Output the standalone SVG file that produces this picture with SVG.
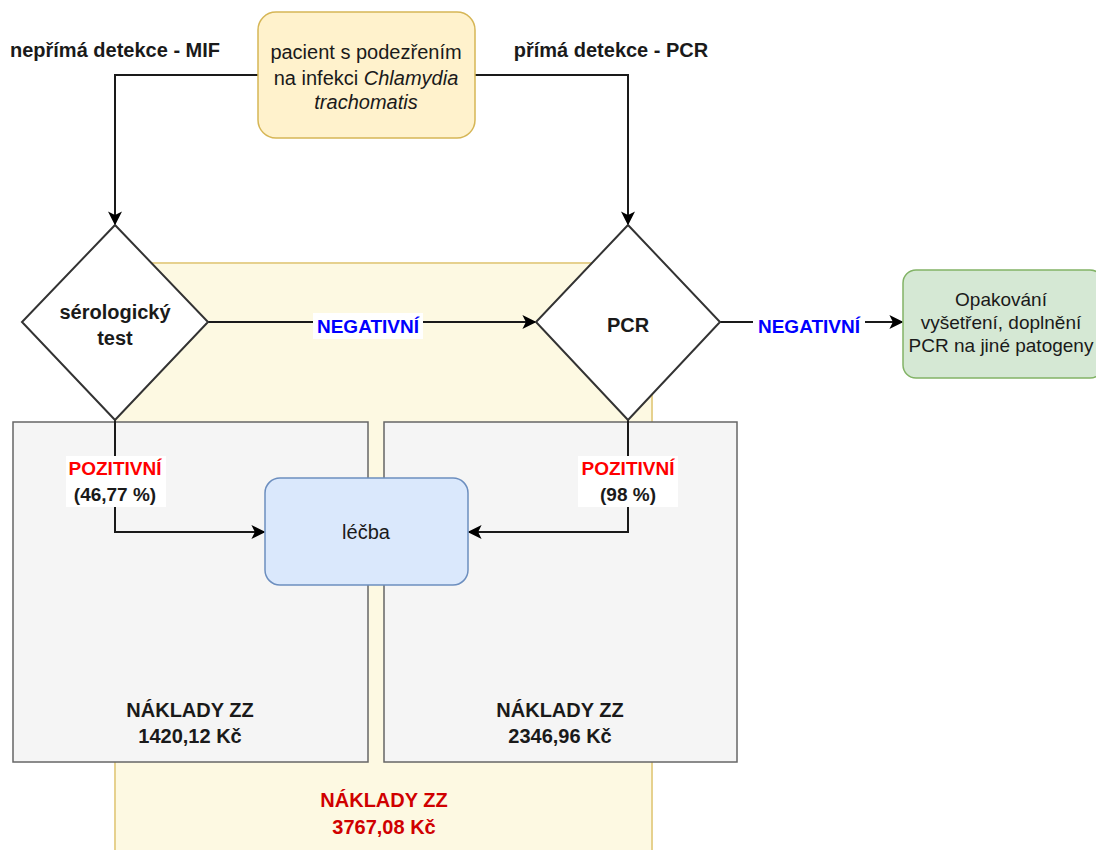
<svg xmlns="http://www.w3.org/2000/svg" width="1096" height="850" viewBox="0 0 1096 850">
<defs>
<style>
text{font-family:"Liberation Sans",Arial,sans-serif;font-size:20px;fill:#1a1a1a;text-anchor:middle}
.b{font-weight:bold}
.edge{fill:none;stroke:#1a1a1a;stroke-width:2}
.neg{fill:#0000ff;font-weight:bold;font-size:19px}
.pos{fill:#ff0000;font-weight:bold;font-size:19px}
.lbg{fill:#ffffff}
.gray{fill:#f5f5f5;stroke:#666666;stroke-width:1.5}
.g{font-size:19px}
</style>
<marker id="arr" viewBox="0 0 10 10" refX="9" refY="5" markerWidth="14" markerHeight="14" markerUnits="userSpaceOnUse" orient="auto">
<path d="M0,0 L10,5 L0,10 L2.5,5 Z" fill="#000"/>
</marker>
</defs>
<rect width="1096" height="850" fill="#ffffff"/>

<g id="container-total">
<rect x="115" y="263" width="537" height="600" fill="#fdf9e2" stroke="#e6d18e" stroke-width="2"/>
<text x="384" y="807" class="b" style="fill:#d00000">NÁKLADY ZZ</text>
<text x="384" y="834" class="b" style="fill:#d00000">3767,08 Kč</text>
</g>

<g id="costs-mif">
<rect class="gray" x="13" y="422" width="355" height="340"/>
<text x="190" y="717" class="b">NÁKLADY ZZ</text>
<text x="190" y="743" class="b">1420,12 Kč</text>
</g>

<g id="costs-pcr">
<rect class="gray" x="384" y="422" width="353" height="340"/>
<text x="560" y="717" class="b">NÁKLADY ZZ</text>
<text x="560" y="743" class="b">2346,96 Kč</text>
</g>

<g id="connectors">
<path class="edge" d="M258,75 H115 V224" marker-end="url(#arr)"/>
<path class="edge" d="M475,75 H628 V224" marker-end="url(#arr)"/>
<path class="edge" d="M208,322 H535" marker-end="url(#arr)"/>
<path class="edge" d="M720,322 H902" marker-end="url(#arr)"/>
<path class="edge" d="M115,420 V532 H264" marker-end="url(#arr)"/>
<path class="edge" d="M628,420 V532 H469" marker-end="url(#arr)"/>
<rect class="lbg" x="313" y="313" width="110" height="26"/>
<text x="368" y="333" class="neg">NEGATIVNÍ</text>
<rect class="lbg" x="753" y="313" width="112" height="26"/>
<text x="809" y="333" class="neg">NEGATIVNÍ</text>
<rect class="lbg" x="66" y="456" width="100" height="51"/>
<text x="115" y="475" class="pos">POZITIVNÍ</text>
<text x="115" y="501" class="b" style="font-size:19px">(46,77 %)</text>
<rect class="lbg" x="578" y="456" width="100" height="51"/>
<text x="628" y="475" class="pos">POZITIVNÍ</text>
<text x="628" y="501" class="b" style="font-size:19px">(98 %)</text>
</g>

<g id="label-mif">
<text x="115" y="57" class="b">nepřímá detekce - MIF</text>
</g>
<g id="label-pcr">
<text x="611" y="57" class="b">přímá detekce - PCR</text>
</g>

<g id="pacient">
<rect x="258" y="12" width="217" height="126" rx="18" fill="#fff2cc" stroke="#d6b656" stroke-width="1.5"/>
<text x="366" y="59">pacient s podezřením</text>
<text x="366" y="85">na infekci <tspan font-style="italic">Chlamydia</tspan></text>
<text x="366" y="109" font-style="italic">trachomatis</text>
</g>

<g id="serologicky-test">
<polygon points="115,225 208,322 115,420 22,322" fill="#ffffff" stroke="#333333" stroke-width="2"/>
<text x="115" y="319" class="b">sérologický</text>
<text x="115" y="345" class="b">test</text>
</g>

<g id="pcr">
<polygon points="628,225 720,322 628,420 536,322" fill="#ffffff" stroke="#333333" stroke-width="2"/>
<text x="628" y="332" class="b">PCR</text>
</g>

<g id="opakovani">
<rect x="903" y="270" width="200" height="108" rx="13" fill="#d5e8d4" stroke="#82b366" stroke-width="1.5"/>
<text x="1001" y="306" class="g">Opakování</text>
<text x="1001" y="329" class="g">vyšetření, doplnění</text>
<text x="1001" y="352" class="g">PCR na jiné patogeny</text>
</g>

<g id="lecba">
<rect x="265" y="478" width="203" height="107" rx="15" fill="#dae8fc" stroke="#6c8ebf" stroke-width="1.5"/>
<text x="366" y="539">léčba</text>
</g>
</svg>
